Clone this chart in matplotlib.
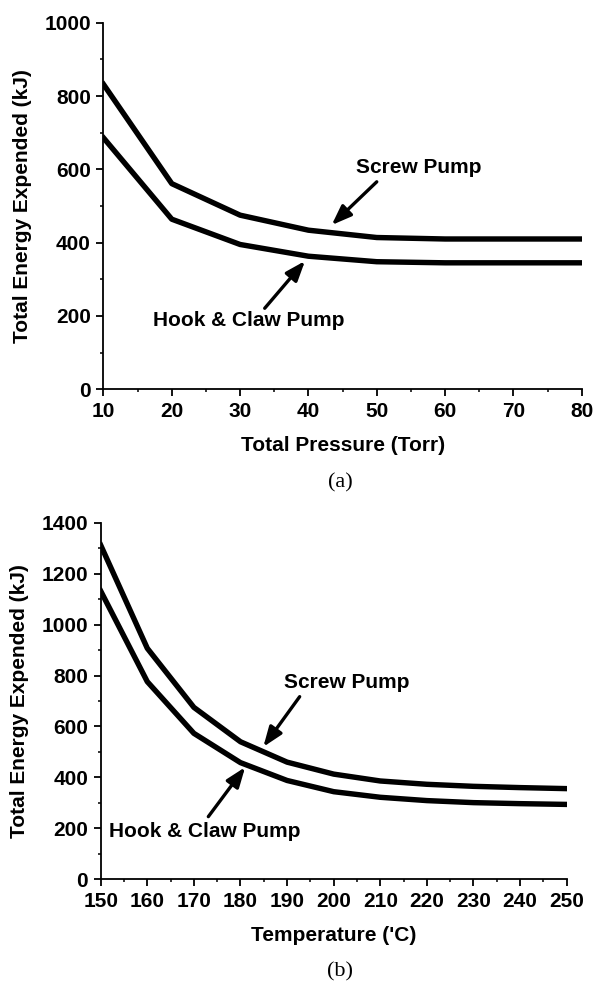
import matplotlib
matplotlib.use("Agg")
import matplotlib.pyplot as plt
from matplotlib.ticker import MultipleLocator

plt.rcParams['font.family'] = ['Liberation Sans', 'DejaVu Sans']
plt.rcParams['font.weight'] = 'bold'

# Panel (a)
pressure = [10, 20, 30, 40, 50, 60, 70, 80]
screw_a = [832, 561, 475, 434, 414, 410, 410, 410]
hook_a = [686, 464, 395, 363, 348, 345, 345, 345]

# Panel (b)
temperature = [150, 160, 170, 180, 190, 200, 210, 220, 230, 240, 250]
screw_b = [1312, 907, 675, 540, 460, 413, 386, 373, 365, 360, 356]
hook_b = [1132, 776, 573, 458, 388, 344, 322, 309, 301, 297, 294]

fig = plt.figure(figsize=(5.94, 9.84), dpi=100)
ax1 = fig.add_axes([0.1742, 0.6044, 0.8051, 0.3725])
ax2 = fig.add_axes([0.1695, 0.1064, 0.7845, 0.3624])

LW = 3.9
FS = 15


def style(ax):
    for s in ['top', 'right']:
        ax.spines[s].set_visible(False)
    for s in ['left', 'bottom']:
        ax.spines[s].set_linewidth(1.3)
    ax.tick_params(which='major', direction='out', length=5, width=1.3,
                   labelsize=FS, pad=4)
    ax.tick_params(which='minor', direction='out', length=2.5, width=1.1)
    for lab in ax.get_xticklabels() + ax.get_yticklabels():
        lab.set_fontweight('bold')


ax1.plot(pressure, screw_a, color='black', lw=LW, solid_joinstyle='round')
ax1.plot(pressure, hook_a, color='black', lw=LW, solid_joinstyle='round')
ax1.set_xlim(10, 80)
ax1.set_ylim(0, 1000)
ax1.xaxis.set_major_locator(MultipleLocator(10))
ax1.xaxis.set_minor_locator(MultipleLocator(5))
ax1.yaxis.set_major_locator(MultipleLocator(200))
ax1.yaxis.set_minor_locator(MultipleLocator(100))
style(ax1)
ax1.set_xlabel('Total Pressure (Torr)', fontsize=FS, fontweight='bold', labelpad=11)
ax1.set_ylabel('Total Energy Expended (kJ)', fontsize=FS, fontweight='bold', labelpad=9)

arrow = dict(arrowstyle='-|>,head_length=1.2,head_width=0.45', color='black', lw=2.4,
             shrinkA=0, shrinkB=0)
ax1.annotate('', xy=(43.4, 448), xytext=(50.0, 566), arrowprops=arrow)
ax1.text(56.2, 606, 'Screw Pump', fontsize=FS, fontweight='bold', ha='center', va='center')
ax1.annotate('', xy=(39.5, 350), xytext=(33.6, 221), arrowprops=arrow)
ax1.text(31.3, 187, 'Hook & Claw Pump', fontsize=FS, fontweight='bold', ha='center', va='center')

ax2.plot(temperature, screw_b, color='black', lw=LW, solid_joinstyle='round')
ax2.plot(temperature, hook_b, color='black', lw=LW, solid_joinstyle='round')
ax2.set_xlim(150, 250)
ax2.set_ylim(0, 1400)
ax2.xaxis.set_major_locator(MultipleLocator(10))
ax2.xaxis.set_minor_locator(MultipleLocator(5))
ax2.yaxis.set_major_locator(MultipleLocator(200))
ax2.yaxis.set_minor_locator(MultipleLocator(100))
style(ax2)
ax2.set_xlabel("Temperature ('C)", fontsize=FS, fontweight='bold', labelpad=11)
ax2.set_ylabel('Total Energy Expended (kJ)', fontsize=FS, fontweight='bold', labelpad=9)

ax2.annotate('', xy=(184.9, 520), xytext=(192.7, 717), arrowprops=arrow)
ax2.text(202.7, 772, 'Screw Pump', fontsize=FS, fontweight='bold', ha='center', va='center')
ax2.annotate('', xy=(181.0, 440), xytext=(173.1, 246), arrowprops=arrow)
ax2.text(172.4, 187, 'Hook & Claw Pump', fontsize=FS, fontweight='bold', ha='center', va='center')

fig.text(340 / 594, 1 - 483 / 984, '(a)', fontsize=16, family='Liberation Serif',
         fontweight='normal', ha='center', va='center')
fig.text(340 / 594, 1 - 972 / 984, '(b)', fontsize=16, family='Liberation Serif',
         fontweight='normal', ha='center', va='center')

fig.savefig('out.png', dpi=100, facecolor='white')
